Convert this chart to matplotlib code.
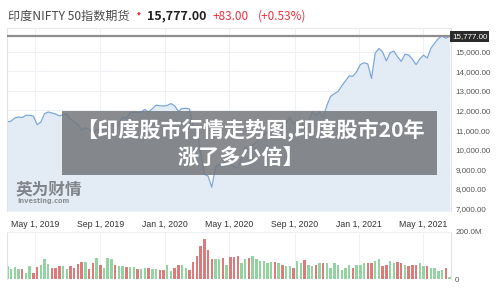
import matplotlib
matplotlib.use('Agg')
import matplotlib.pyplot as plt
from matplotlib.patches import Rectangle
import numpy as np
import pandas as pd

plt.rcParams['font.family'] = ['Noto Sans CJK SC', 'DejaVu Sans']

# weekly closes of the NIFTY 50 futures
close = [11427, 11456, 11624, 11665, 11643, 11752, 11755, 11712, 11279, 11407,
         11844, 11923, 11871, 11823, 11724, 11789, 11811, 11552, 11419, 11284,
         10997, 11110, 11048, 10829, 11023, 10946, 11076, 11274, 11512, 11175,
         11305, 11662, 11584, 11890, 11908, 11895, 11914, 12056, 11921, 12086,
         12272, 12246, 12226, 12257, 12352, 12248, 11962, 12098, 12113, 12081,
         11202, 10989, 9955, 8745, 8660, 8084, 9112, 9267, 9154, 9860,
         9252, 9137, 9040, 9580, 10142, 9973, 10244, 10383, 10608, 10768,
         10902, 11194, 11073, 11214, 11178, 11372, 11647, 11333, 11464, 11505,
         11050, 11417, 11914, 11762, 11930, 11642, 12264, 12720, 12859, 12969,
         13258, 13514, 13761, 13749, 13982, 14347, 14434, 14372, 13635, 14924,
         15163, 14982, 14529, 14938, 15031, 14744, 14507, 14867, 14835, 14617,
         14341, 14631, 14823, 14677, 15175, 15436, 15670, 15799, 15683, 15777]

# weekly volume, millions
volume_m = [54, 44, 49, 42, 44, 27, 57, 27, 49, 58, 83, 65, 46, 46, 57, 57, 42, 57, 46, 65,
            71, 71, 42, 68, 90, 60, 45, 90, 83, 60, 57, 54, 49, 49, 49, 44, 44, 46, 46, 42,
            42, 39, 39, 60, 35, 46, 60, 61, 46, 40, 74, 100, 140, 170, 122, 83, 83, 86, 90, 61,
            94, 93, 97, 68, 83, 91, 100, 83, 75, 75, 68, 71, 71, 68, 61, 57, 54, 46, 75, 68,
            80, 61, 54, 61, 68, 68, 68, 46, 68, 61, 39, 46, 61, 46, 61, 61, 68, 68, 68, 75,
            83, 54, 61, 75, 68, 71, 68, 61, 54, 61, 61, 68, 54, 54, 46, 46, 36, 39, 46, 10]

tick_dates = ['2019-05-01', '2019-09-01', '2020-01-01', '2020-05-01',
              '2020-09-01', '2021-01-01', '2021-05-01']
tick_labels = ['May 1, 2019', 'Sep 1, 2019', 'Jan 1, 2020', 'May 1, 2020',
               'Sep 1, 2020', 'Jan 1, 2021', 'May 1, 2021']
price_ticks = [7000, 8000, 9000, 10000, 11000, 12000, 13000, 14000, 15000]
last_price = 15777

dates = pd.date_range('2019-03-10', periods=len(close), freq='7D')
ticks = pd.to_datetime(tick_dates)
xlim = (pd.Timestamp('2019-03-09 06:00'), pd.Timestamp('2021-06-22 18:00'))

W, H = 500, 288
def fx(x):
    return x / W
def fy(y):
    return 1 - y / H

fig = plt.figure(figsize=(5, 2.88), dpi=100)
ax = fig.add_axes([fx(7), fy(211), fx(451) - fx(7), fy(28) - fy(211)])
axv = fig.add_axes([fx(7), fy(279), fx(451) - fx(7), fy(232) - fy(279)])

grid_c = '#eef1f5'
edge_c = '#dfe3e8'

# price panel
ylo, yhi = 6872, 16209
ax.fill_between(dates, close, ylo, color='#e3ecf5', lw=0)
ax.plot(dates, close, color='#7ba7d9', lw=0.9)
ax.axhline(last_price, color='#8e8e8e', lw=1.6, zorder=3)
ax.set_xlim(xlim)
ax.set_ylim(ylo, yhi)
ax.set_xticks(ticks)
ax.set_xticklabels(tick_labels)
ax.set_yticks(price_ticks)
ax.set_yticklabels([f'{v:,.2f}' for v in price_ticks])
ax.yaxis.tick_right()
ax.tick_params(axis='y', length=0, pad=3, labelsize=5.8, labelcolor='#555555',
               labelfontfamily='Liberation Sans')
ax.tick_params(axis='x', length=0, pad=6.5, labelsize=6.3, labelcolor='#333333',
               labelfontfamily='Liberation Sans')
ax.grid(True, color=grid_c, lw=0.7)
ax.set_axisbelow(True)
ax.spines['bottom'].set_visible(False)
ax.spines['top'].set_color('#e6e9ed')
for s in ['left', 'right']:
    ax.spines[s].set_color(edge_c)

# volume panel
diff = np.diff(close, prepend=close[0])
colors = ['#93d3a2' if d >= 0 else '#db7b7b' for d in diff]
axv.bar(dates, np.array(volume_m) * 1e6, width=4.6, color=colors, lw=0)
axv.set_xlim(xlim)
axv.set_ylim(0, 200e6)
axv.set_xticks(ticks)
axv.set_xticklabels([])
axv.set_yticks([0, 200e6])
axv.set_yticklabels(['0', '200.0M'])
axv.yaxis.tick_right()
axv.tick_params(axis='y', length=0, pad=3, labelsize=5.8, labelcolor='#555555',
                labelfontfamily='Liberation Sans')
axv.tick_params(axis='x', length=0)
axv.grid(True, axis='x', color=grid_c, lw=0.7)
axv.set_axisbelow(True)
axv.spines['top'].set_color('#eef0f3')
axv.spines['bottom'].set_visible(False)
for s in ['left', 'right']:
    axv.spines[s].set_color(edge_c)

# last price tag
fig.text(fx(452), fy(36.5), f'{last_price:,.2f}', ha='left', va='center', fontsize=5.8,
         color='white', family='Liberation Sans',
         bbox=dict(facecolor='#2b2b2b', edgecolor='none', pad=1.4))

# header
fig.text(fx(8), fy(16), '印度NIFTY 50指数期货', ha='left', va='center', fontsize=8.7, color='#4a4a4a')
fig.text(fx(137), fy(13), '◆', ha='left', va='center', fontsize=3.5, color='#e8323c',
         family='DejaVu Sans')
fig.text(fx(147), fy(16), '15,777.00', ha='left', va='center', fontsize=9, color='#222222',
         fontweight='bold')
fig.text(fx(213), fy(16), '+83.00', ha='left', va='center', fontsize=8.5, color='#e8323c')
fig.text(fx(258), fy(16), '(+0.53%)', ha='left', va='center', fontsize=8.5, color='#e8323c')

# watermark
fig.text(fx(16), fy(189), '英为财情', ha='left', va='center', fontsize=12, color='#6f7379',
         fontweight='bold', alpha=0.85)
fig.text(fx(17), fy(201), 'Investing.com', ha='left', va='center', fontsize=4.8, color='#7d8186',
         fontweight='bold', alpha=0.85, family='DejaVu Sans')

# overlay caption
fig.add_artist(Rectangle((fx(62), fy(175)), fx(437) - fx(62), fy(111) - fy(175),
                         transform=fig.transFigure, facecolor='#74777b', alpha=0.85,
                         edgecolor='none', zorder=5))
fig.text(fx(250), fy(130), '【印度股市行情走势图,印度股市20年', ha='center', va='center',
         fontsize=15.2, color='white', fontweight='bold', zorder=6)
fig.text(fx(241), fy(157), '涨了多少倍】', ha='center', va='center',
         fontsize=15.2, color='white', fontweight='bold', zorder=6)

fig.savefig('out.png', dpi=100)
